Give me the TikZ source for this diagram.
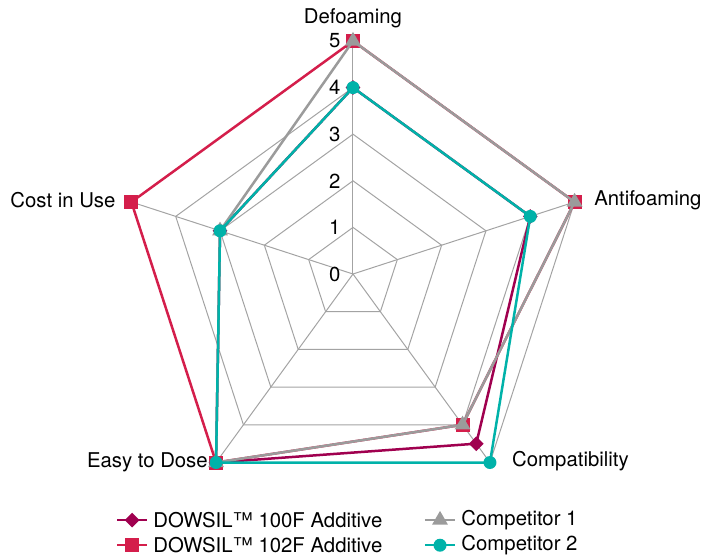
\documentclass[tikz,border=0pt]{standalone}
\usepackage{fontspec}
\setmainfont{TeX Gyre Heros}
\usetikzlibrary{shapes.geometric,calc}
\definecolor{plum}{HTML}{A0004F}
\definecolor{crimson}{HTML}{D41E4B}
\definecolor{greyline}{HTML}{9B9B9B}
\definecolor{teal}{HTML}{00B2A9}
\definecolor{gridgrey}{HTML}{A3A3A3}
\begin{document}
\begin{tikzpicture}[x=27.96pt, y=27.96pt, font=\fontsize{12.2}{14}\selectfont,
  gridline/.style={gridgrey, line width=0.6pt},
  series/.style={line width=1.5pt, line join=round},
  mdiam/.style={diamond, fill=plum, inner sep=0pt, minimum size=9pt},
  msquare/.style={rectangle, fill=crimson, inner sep=0pt, minimum size=8.4pt},
  mtri/.style={regular polygon, regular polygon sides=3, fill=greyline, inner sep=0pt, minimum size=11pt},
  mcirc/.style={circle, fill=teal, inner sep=0pt, minimum size=7.8pt}]
\useasboundingbox (-7.575,-6.052) rectangle (7.811,5.880);

% grid
\foreach \r in {1,...,5}
  \draw[gridline] (90:\r) -- (18:\r) -- (-54:\r) -- (-126:\r) -- (162:\r) -- cycle;
\foreach \a in {90,18,-54,-126,162}
  \draw[gridline] (0,0) -- (\a:5);
\foreach \r in {0,...,5}
  \node[anchor=east, inner sep=0pt] (n\r) at (-0.26,\r) {\r};

% axis labels
\node[inner sep=0pt] (defo) at (0,5.49) {Defoaming};
\node[anchor=west, inner sep=0pt] (anti) at (5.17,1.59) {Antifoaming};
\node[anchor=west, inner sep=0pt] (comp) at (3.41,-4.01) {Compatibility};
\node[anchor=east, inner sep=0pt] (dose) at (-3.11,-4.03) {Easy to Dose};
\node[anchor=east, inner sep=0pt] (cost) at (-5.09,1.59) {Cost in Use};

% DOWSIL 100F
\coordinate (a1) at (90:4); \coordinate (a2) at (18:4); \coordinate (a3) at (-54:4.5);
\coordinate (a4) at (-126:5); \coordinate (a5) at (162:3);
\draw[series, plum] (a1) -- (a2) -- (a3) -- (a4) -- (a5) -- cycle;
\foreach \i in {1,...,5} \node[mdiam] (ma\i) at (a\i) {};

% DOWSIL 102F
\coordinate (b1) at (90:5); \coordinate (b2) at (18:5); \coordinate (b3) at (-54:4);
\coordinate (b4) at (-126:5); \coordinate (b5) at (162:5);
\draw[series, crimson] (b1) -- (b2) -- (b3) -- (b4) -- (b5) -- cycle;
\foreach \i in {1,...,5} \node[msquare] (mb\i) at (b\i) {};

% Competitor 1
\coordinate (c1) at (90:5); \coordinate (c2) at (18:5); \coordinate (c3) at (-54:4);
\coordinate (c4) at (-126:5); \coordinate (c5) at (162:3);
\draw[series, greyline] (c1) -- (c2) -- (c3) -- (c4) -- (c5) -- cycle;
\foreach \i in {1,...,5} \node[mtri] (mc\i) at (c\i) {};

% Competitor 2
\coordinate (e1) at (90:4); \coordinate (e2) at (18:4); \coordinate (e3) at (-54:5);
\coordinate (e4) at (-126:5); \coordinate (e5) at (162:3);
\draw[series, teal] (e1) -- (e2) -- (e3) -- (e4) -- (e5) -- cycle;
\foreach \i in {1,...,5} \node[mcirc] (me\i) at (e\i) {};

% legend
\coordinate (la0) at (-5.06,-5.28); \coordinate (la1) at (-4.42,-5.28);
\draw[series, plum] (la0) -- (la1);
\node[mdiam] (lma) at ($(la0)!0.5!(la1)$) {};
\node[anchor=west, inner sep=0pt] (lta) at (-4.29,-5.28) {DOWSIL™ 100F Additive};

\coordinate (lb0) at (-5.06,-5.82); \coordinate (lb1) at (-4.42,-5.82);
\draw[series, crimson] (lb0) -- (lb1);
\node[msquare] (lmb) at ($(lb0)!0.5!(lb1)$) {};
\node[anchor=west, inner sep=0pt] (ltb) at (-4.29,-5.82) {DOWSIL™ 102F Additive};

\coordinate (lc0) at (1.545,-5.28); \coordinate (lc1) at (2.19,-5.28);
\draw[series, greyline] (lc0) -- (lc1);
\node[mtri] (lmc) at ($(lc0)!0.5!(lc1)$) {};
\node[anchor=west, inner sep=0pt] (ltc) at (2.32,-5.28) {Competitor 1};

\coordinate (le0) at (1.545,-5.82); \coordinate (le1) at (2.19,-5.82);
\draw[series, teal] (le0) -- (le1);
\node[mcirc] (lme) at ($(le0)!0.5!(le1)$) {};
\node[anchor=west, inner sep=0pt] (lte) at (2.32,-5.82) {Competitor 2};
\end{tikzpicture}
\end{document}
